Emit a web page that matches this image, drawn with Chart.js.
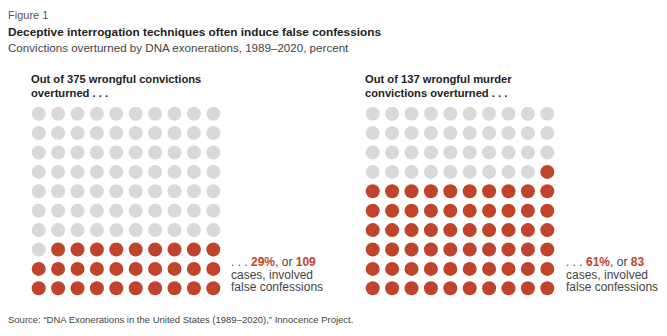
<!DOCTYPE html>
<html>
<head>
<meta charset="utf-8">
<script src="https://cdn.jsdelivr.net/npm/chart.js@4/dist/chart.umd.min.js"></script>
<style>
	html, body { margin: 0; padding: 0; background: #fff; }
	body { width: 667px; height: 336px; position: relative; overflow: hidden;
		font-family: "Liberation Sans", Arial, sans-serif; color: #333; }
	.txt { position: absolute; white-space: nowrap; }
	.fig { left: 8px; top: 9px; font-size: 11px; color: #555; }
	.title { left: 8px; top: 25px; font-size: 11.8px; font-weight: bold; color: #222; }
	.sub { left: 8px; top: 41px; font-size: 11.6px; color: #444; }
	.panel-title { font-size: 11.2px; font-weight: bold; color: #222; line-height: 14px; }
	.note { font-size: 12px; color: #444; line-height: 12.6px; }
	.note b { color: #c0442b; }
	.src { left: 8px; top: 314px; font-size: 9.5px; color: #444; }
	.waffle { position: absolute; width: 194px; height: 194px; }
</style>
</head>
<body>
<div class="txt fig">Figure 1</div>
<div class="txt title">Deceptive interrogation techniques often induce false confessions</div>
<div class="txt sub">Convictions overturned by DNA exonerations, 1989–2020, percent</div>

<div class="txt panel-title" style="left:31px; top:72px;">Out of 375 wrongful convictions<br>overturned . . .</div>
<div class="txt panel-title" style="left:365px; top:72px;">Out of 137 wrongful murder<br>convictions overturned . . .</div>

<div class="waffle" style="left:28.6px; top:103.6px;"><canvas id="w0"></canvas></div>
<div class="waffle" style="left:362.6px; top:103.6px;"><canvas id="w1"></canvas></div>

<div class="txt note" id="n0" style="left:231px; top:256px;"></div>
<div class="txt note" id="n1" style="left:566px; top:256px;"></div>

<div class="txt src">Source: “DNA Exonerations in the United States (1989–2020),” Innocence Project.</div>

<script>
// --- data --------------------------------------------------------------------
const panelTotals   = [375, 137];
const panelCases    = [109, 83];
const panelPercents = [29, 61];

const GRID = 10;
const RED  = '#c0442b';
const GREY = '#d9d9d9';

// --- helpers -----------------------------------------------------------------

// red cells are the last N cells in reading order
function cells(pct) {
	const red = [], grey = [];
	for (let i = 0; i < GRID * GRID; i++) {
		const pt = { x: (i % GRID) + 1, y: Math.floor(i / GRID) + 1 };
		(i >= GRID * GRID - pct ? red : grey).push(pt);
	}
	return { red, grey };
}

function drawWaffle(id, pct) {
	const c = cells(pct);
	new Chart(document.getElementById(id), {
		type: 'scatter',
		data: {
			datasets: [
				{ data: c.grey, backgroundColor: GREY, borderWidth: 0, pointRadius: 7, pointHoverRadius: 7 },
				{ data: c.red,  backgroundColor: RED,  borderWidth: 0, pointRadius: 7, pointHoverRadius: 7 }
			]
		},
		options: {
			responsive: true, maintainAspectRatio: false, animation: false,
			layout: { padding: 0, autoPadding: false },
			clip: false,
			plugins: { legend: { display: false }, tooltip: { enabled: false } },
			scales: {
				x: { display: false, min: 0.5, max: GRID + 0.5 },
				y: { display: false, min: 0.5, max: GRID + 0.5, reverse: true }
			}
		}
	});
}

function writeNote(id, pct, n) {
	const node = document.getElementById(id);
	node.innerHTML = '. . . <b>' + pct + '%</b>, or <b>' + n + '</b><br>cases, involved<br>false confessions';
}

panelPercents.forEach((p, i) => {
	drawWaffle('w' + i, p);
	writeNote('n' + i, p, panelCases[i]);
});
</script>
</body>
</html>
